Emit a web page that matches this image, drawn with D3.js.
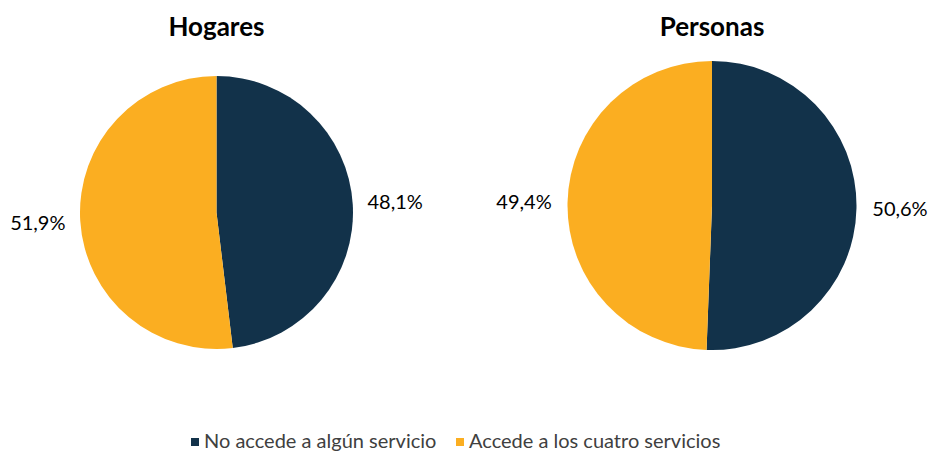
<!DOCTYPE html>
<html>
<head>
<meta charset="utf-8">
<script src="https://cdn.jsdelivr.net/npm/d3@7"></script>
<style>
  body { margin: 0; background: #fff; }
  svg { display: block; font-family: "Lato", "Open Sans", sans-serif; }
</style>
</head>
<body>
<div id="chart"></div>
<script>
// chart data
var categories = ["No accede a algún servicio", "Accede a los cuatro servicios"];
var colors = ["#12324a", "#fbae21"];
var hogares = [48.1, 51.9];
var personas = [50.6, 49.4];
var titles = ["Hogares", "Personas"];

var width = 928, height = 452;

var svg = d3.select("#chart").append("svg")
    .attr("width", width)
    .attr("height", height);

var color = d3.scaleOrdinal().domain(categories).range(colors);

var pie = d3.pie()
    .sort(null)
    .value(function (d) { return d.value; });

// each panel: center + radius
var panels = [
    { title: titles[0], values: hogares, cx: 216.5, cy: 212.5, r: 136.5, labelR: 179 },
    { title: titles[1], values: personas, cx: 712, cy: 205.5, r: 144.5, labelR: 188 }
];

panels.forEach(function (p) {
    var data = categories.map(function (c, i) { return { label: c, value: p.values[i] }; });

    var g = svg.append("g")
        .attr("transform", "translate(" + p.cx + "," + p.cy + ")");

    var arc = d3.arc().innerRadius(0).outerRadius(p.r);
    var pos = d3.arc().innerRadius(p.labelR).outerRadius(p.labelR);

    g.selectAll("path")
        .data(pie(data))
        .enter().append("path")
        .attr("d", arc)
        .style("fill", function (d) { return color(d.data.label); });

    g.selectAll("text.lbl")
        .data(pie(data))
        .enter().append("text")
        .attr("class", "lbl")
        .attr("transform", function (d) {
            var c = pos.centroid(d);
            return "translate(" + c[0] + "," + c[1] + ")";
        })
        .attr("dy", "0.35em")
        .style("text-anchor", "middle")
        .style("font-size", "20px")
        .style("fill", "#000")
        .text(function (d) { return d.data.value.toFixed(1).replace(".", ",") + "%"; });

    svg.append("text")
        .attr("x", p.cx)
        .attr("y", 36)
        .style("text-anchor", "middle")
        .style("font-size", "26px")
        .style("font-weight", "bold")
        .style("fill", "#000")
        .text(p.title);
});

// legend
var legend = svg.append("g").attr("class", "legend");
var legX = [191, 456];
categories.forEach(function (c, i) {
    legend.append("rect")
        .attr("x", legX[i])
        .attr("y", 438)
        .attr("width", 8)
        .attr("height", 8)
        .style("fill", color(c));
    legend.append("text")
        .attr("x", legX[i] + 13)
        .attr("y", 448)
        .style("font-size", "20px")
        .style("fill", "#404040")
        .text(c);
});
</script>
</body>
</html>
